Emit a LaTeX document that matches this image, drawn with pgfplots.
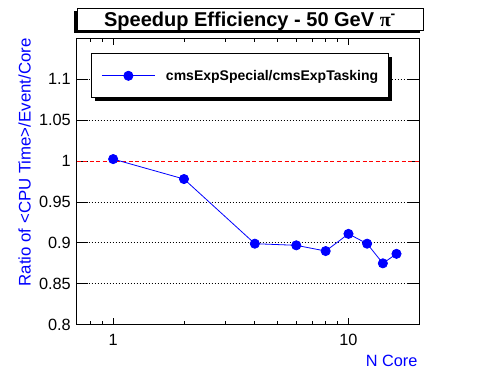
\documentclass[border=0pt]{standalone}
\usepackage{pgfplots}
\pgfplotsset{compat=1.18}
\usepackage{fontspec}
\setmainfont{Liberation Sans}
\newfontfamily\seriffont{Liberation Serif}
\usetikzlibrary{shadows}
\definecolor{rootblue}{RGB}{0,0,255}
\definecolor{rootred}{RGB}{255,0,0}
\makeatletter
\tikzset{no preactions/.code={\let\tikz@preactions\pgfutil@empty}}
\makeatother

\begin{document}
\begin{tikzpicture}
\path[use as bounding box] (0,0) rectangle (496bp,372bp);
\begin{axis}[
  at={(76.7bp,47.3bp)}, anchor=south west,
  scale only axis, width=342.6bp, height=286.4bp,
  xmode=log, xmin=0.7, xmax=20,
  ymin=0.8, ymax=1.15,
  xtick={1,10}, xticklabels={1,10},
  minor xtick={0.8,0.9,2,3,4,5,6,7,8,9,20},
  ytick={0.8,0.85,0.9,0.95,1.05,1.1},
  extra y ticks={1},
  extra y tick style={grid=none},
  minor y tick num=4,
  tick align=inside,
  /pgf/number format/assume math mode=true,
  axis line style={line width=1bp, black},
  every tick/.style={line width=0.8bp, black},
  xtick style={/pgfplots/major tick length=7bp, /pgfplots/minor tick length=3.5bp},
  ytick style={/pgfplots/major tick length=11.7bp, /pgfplots/minor tick length=5bp},
  ymajorgrids,
  major grid style={black, line width=0.8bp, dash pattern=on 1bp off 2bp},
  ticklabel style={font=\fontsize{16.3bp}{19bp}\selectfont},
  yticklabel style={anchor=east, inner sep=0pt, xshift=-5.7bp},
  xticklabel style={anchor=north, inner sep=0pt, yshift=-9bp},
  xlabel={N Core},
  xlabel style={at={(rel axis cs:1,0)}, anchor=base east, inner sep=0pt,
    yshift=-42bp, xshift=-1.6bp, font=\fontsize{16.3bp}{19bp}\selectfont, text=rootblue},
  ylabel={Ratio of <CPU Time>/Event/Core},
  ylabel style={at={([xshift=-46.2bp]rel axis cs:0,1)}, anchor=base east, inner sep=0pt,
    font=\fontsize{16.8bp}{19bp}\selectfont, text=rootblue},
  title={Speedup Efficiency - 50 GeV~{\seriffont\bfseries π}\textsuperscript{-}},
  every axis title/.style={at={(rel axis cs:0.5,1)}, anchor=south, xshift=2bp, yshift=6.8bp,
    draw=black, line width=1bp, fill=white, minimum width=346bp, minimum height=22bp,
    inner sep=0pt, text height=14.8bp, text depth=2bp,
    font=\fontsize{20bp}{23bp}\selectfont\bfseries,
    drop shadow={shadow xshift=-3bp, shadow yshift=-2.5bp, fill=black, opacity=1}},
  legend style={at={(rel axis cs:0,1)}, anchor=north west, xshift=14bp, yshift=-15bp,
    draw=black, line width=1bp, fill=white,
    drop shadow={shadow xshift=4bp, shadow yshift=-3bp, fill=black, opacity=1},
    font=\fontsize{14bp}{16bp}\selectfont\bfseries,
    inner xsep=10.3bp, inner ysep=16.7bp, column sep=10.7bp,
    nodes={inner sep=0pt, text height=10bp, text depth=0.6bp}},
  legend image code/.code={
    \draw[no preactions, mark repeat=2, mark phase=2, #1] plot coordinates {(0bp,0bp) (26.5bp,0bp) (53bp,0bp)};
  },
]
\addplot[draw=rootred, line width=0.85bp, dash pattern=on 4bp off 2.5bp, forget plot]
  coordinates {(0.7,1) (20,1)};
\addplot[rootblue, line width=0.8bp, mark=*, mark size=4.6bp,
  mark options={draw=rootblue, fill=rootblue, solid}]
  coordinates {(1,1.0024) (2,0.978) (4,0.899) (6,0.897) (8,0.890) (10,0.911) (12,0.899) (14,0.875) (16,0.8866)};
\addlegendentry{cmsExpSpecial/cmsExpTasking}
\end{axis}
\end{tikzpicture}
\end{document}
